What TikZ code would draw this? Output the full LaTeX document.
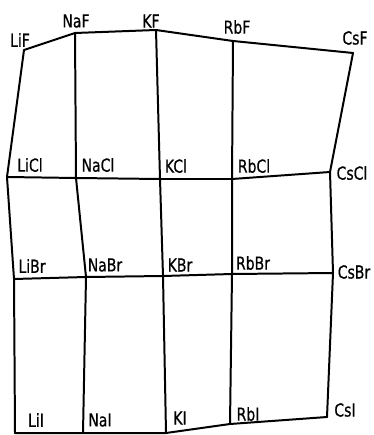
\documentclass[tikz,border=0pt]{standalone}
\usepackage{fontspec}
\newfontfamily\labfont[FakeStretch=0.78,FakeBold=0.6]{DejaVu Sans}
\begin{document}
\begin{tikzpicture}[x=1bp,y=-1bp,
  grid/.style={line width=2pt,line join=round,line cap=round},
  lab/.style={font=\labfont\fontsize{18}{18}\selectfont,inner sep=0pt}]
\useasboundingbox (0,0) rectangle (373,435);
% vertices
\coordinate (LiF) at (24,50);  \coordinate (NaF) at (75,33);  \coordinate (KF) at (156,30);
\coordinate (RbF) at (233,41); \coordinate (CsF) at (353,53);
\coordinate (LiCl) at (7,177); \coordinate (NaCl) at (76,178); \coordinate (KCl) at (160,179);
\coordinate (RbCl) at (232,179); \coordinate (CsCl) at (330,172);
\coordinate (LiBr) at (14,279); \coordinate (NaBr) at (86,277); \coordinate (KBr) at (163,276);
\coordinate (RbBr) at (232,274); \coordinate (CsBr) at (333,273);
\coordinate (LiI) at (15,433); \coordinate (NaI) at (83,433); \coordinate (KI) at (166,433);
\coordinate (RbI) at (230,424); \coordinate (CsI) at (327,417);
% rows
\draw[grid] (LiF) -- (NaF) -- (KF) -- (RbF) -- (CsF);
\draw[grid] (LiCl) -- (NaCl) -- (KCl) -- (RbCl) -- (CsCl);
\draw[grid] (LiBr) -- (NaBr) -- (KBr) -- (RbBr) -- (CsBr);
\draw[grid] (LiI) -- (NaI) -- (KI) -- (RbI) -- (CsI);
% columns
\draw[grid] (LiF) -- (LiCl) -- (LiBr) -- (LiI);
\draw[grid] (NaF) -- (NaCl) -- (NaBr) -- (NaI);
\draw[grid] (KF) -- (KCl) -- (KBr) -- (KI);
\draw[grid] (RbF) -- (RbCl) -- (RbBr) -- (RbI);
\draw[grid] (CsF) -- (CsCl) -- (CsBr) -- (CsI);
% labels
\node[lab] (tLiF) at (20,40) {LiF};
\node[lab] (tNaF) at (76,21) {NaF};
\node[lab] (tKF) at (151,21) {KF};
\node[lab] (tRbF) at (237,27) {RbF};
\node[lab] (tCsF) at (355,38) {CsF};
\node[lab] (tLiCl) at (30,165) {LiCl};
\node[lab] (tNaCl) at (98,165) {NaCl};
\node[lab] (tKCl) at (176,166) {KCl};
\node[lab] (tRbCl) at (254,166) {RbCl};
\node[lab] (tCsCl) at (352,173) {CsCl};
\node[lab] (tLiBr) at (32,266) {LiBr};
\node[lab] (tNaBr) at (105,265) {NaBr};
\node[lab] (tKBr) at (180,265) {KBr};
\node[lab] (tRbBr) at (253,263) {RbBr};
\node[lab] (tCsBr) at (354,272) {CsBr};
\node[lab] (tLiI) at (36,420) {LiI};
\node[lab] (tNaI) at (100,420) {NaI};
\node[lab] (tKI) at (180,418) {KI};
\node[lab] (tRbI) at (248,414) {RbI};
\node[lab] (tCsI) at (345,410) {CsI};
\end{tikzpicture}
\end{document}
